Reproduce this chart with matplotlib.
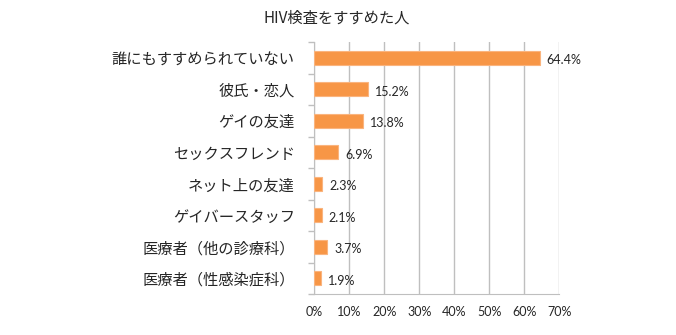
import matplotlib
matplotlib.use("Agg")
import matplotlib.pyplot as plt
import numpy as np

# ------------------------------
# Data
# ------------------------------

CATEGORIES = [
    "誰にもすすめられていない",
    "彼氏・恋人",
    "ゲイの友達",
    "セックスフレンド",
    "ネット上の友達",
    "ゲイバースタッフ",
    "医療者（他の診療科）",
    "医療者（性感染症科）",
]
VALUES = [64.4, 15.2, 13.8, 6.9, 2.3, 2.1, 3.7, 1.9]
X_TICKS = [0, 10, 20, 30, 40, 50, 60, 70]
TITLE = "HIV検査をすすめた人"

plt.rcParams["font.family"] = ["Noto Sans CJK JP", "DejaVu Sans"]

BAR_COLOR = "#F79646"
EDGE_COLOR = "#FAB47E"
GRID_COLOR = "#BFBFBF"
TEXT_COLOR = "#262626"

# ------------------------------
# Plot
# ------------------------------

fig = plt.figure(figsize=(6.76, 3.35), dpi=100)
ax = fig.add_axes([314.3 / 676, 1 - 294 / 335, 245 / 676, 252 / 335])

y = np.arange(len(CATEGORIES))
ax.barh(y, VALUES, height=0.45, color=BAR_COLOR, edgecolor=EDGE_COLOR,
        linewidth=0.8, zorder=3)

for yi, v in zip(y, VALUES):
    ax.text(v + 2.0, yi + 0.08, f"{v:.1f}%", va="center", ha="left",
            fontsize=9, color=TEXT_COLOR, family=["Lato", "DejaVu Sans"])

ax.set_xlim(0, 70)
ax.set_ylim(len(CATEGORIES) - 0.5, -0.5)
ax.set_xticks(X_TICKS)
ax.set_xticklabels([f"{t}%" for t in X_TICKS], fontsize=9, color=TEXT_COLOR,
                   family=["Lato", "DejaVu Sans"])
ax.tick_params(axis="x", length=0, pad=9)

# category labels centred on bars, tick marks between categories
ax.set_yticks(y)
ax.set_yticklabels(CATEGORIES, fontsize=11, color=TEXT_COLOR)
ax.tick_params(axis="y", which="major", length=0, pad=14)
ax.set_yticks(np.arange(-0.5, len(CATEGORIES)), minor=True)
ax.tick_params(axis="y", which="minor", length=4, color=GRID_COLOR, width=1)

ax.grid(axis="x", color=GRID_COLOR, linewidth=1, zorder=0)
for side in ["top", "right"]:
    ax.spines[side].set_visible(False)
ax.spines["left"].set_color(GRID_COLOR)
ax.spines["bottom"].set_color(GRID_COLOR)

fig.text(337 / 676, 1 - 18 / 335, TITLE, ha="center", va="center",
         fontsize=11, color=TEXT_COLOR)

fig.savefig("out.png", dpi=100)
